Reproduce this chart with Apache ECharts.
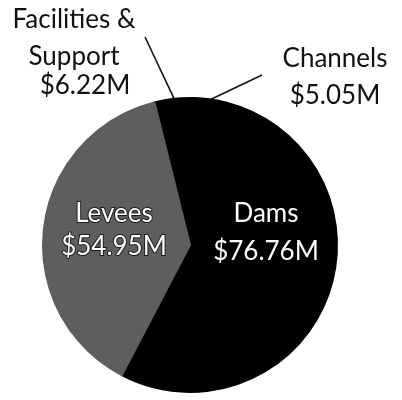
<!DOCTYPE html>
<html>
<head>
<meta charset="utf-8">
<script src="https://cdn.jsdelivr.net/npm/echarts@6/dist/echarts.min.js"></script>
<style>
html,body{margin:0;padding:0;background:#fff;}
#chart{width:402px;height:400px;}
</style>
</head>
<body>
<div id="chart"></div>
<script>
const categories = ['Facilities &\nSupport', 'Channels', 'Dams', 'Levees'];
const values = [6.22, 5.05, 76.76, 54.95];
const colors = ['#000000', '#000000', '#000000', '#5e5e5e'];

const FONT = 'Lato';
const FS = 26;

// label layout (not data)
const labelPos = {
  0: {x: 74, y: 49, nameLH: 37, valLH: 22, valPad: [0, 0, 0, 22], end: [145, 37]},
  1: {x: 335, y: 77, nameLH: 37, valLH: 37, valPad: 0, end: [262, 75]},
  2: {x: 266, y: 233, nameLH: 38, valLH: 38, valPad: 0},
  3: {x: 114, y: 230, nameLH: 33, valLH: 33, valPad: 0}
};

function richFor(i, inside) {
  const lp = labelPos[i];
  const base = {
    fontFamily: FONT,
    fontSize: FS,
    color: inside ? '#ffffff' : '#111111',
    textBorderColor: i === 3 ? '#1a1a1a' : 'transparent',
    textBorderWidth: i === 3 ? 2 : 0
  };
  return {
    n: Object.assign({}, base, {lineHeight: lp.nameLH}),
    v: Object.assign({}, base, {lineHeight: lp.valLH, padding: lp.valPad})
  };
}

const chart = echarts.init(document.getElementById('chart'));
const data = categories.map((c, i) => {
  const inside = i >= 2;
  return {
    name: c,
    value: values[i],
    itemStyle: {color: colors[i], borderColor: colors[i], borderWidth: 2},
    label: {
      position: inside ? 'inside' : 'outside',
      color: inside ? '#ffffff' : '#111111',
      rich: richFor(i, inside)
    },
    labelLine: {show: !inside}
  };
});

chart.setOption({
  animation: false,
  series: [{
    type: 'pie',
    center: [190, 245],
    radius: 147,
    startAngle: 104,
    clockwise: true,
    data: data,
    itemStyle: {borderWidth: 2, borderJoin: 'round'},
    label: {
      fontFamily: FONT,
      fontSize: FS,
      formatter: p => p.name.split('\n').map(s => '{n|' + s + '}').join('\n') +
        '\n{v|$' + p.value.toFixed(2) + 'M}',
      align: 'center'
    },
    labelLine: {
      lineStyle: {color: '#111', width: 1.6},
      length: 30,
      length2: 0
    },
    labelLayout: function (params) {
      const lp = labelPos[params.dataIndex];
      const out = {x: lp.x, y: lp.y, align: 'center', verticalAlign: 'middle'};
      if (lp.end && params.labelLinePoints) {
        out.labelLinePoints = [params.labelLinePoints[0], lp.end, lp.end];
      }
      return out;
    }
  }]
});
</script>
</body>
</html>
